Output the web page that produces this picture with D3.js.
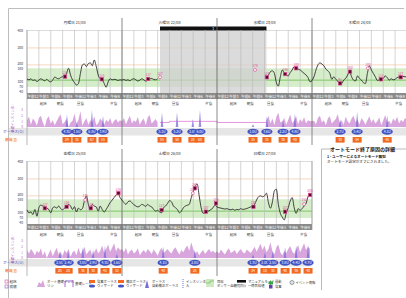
<!DOCTYPE html>
<html>
<head>
<meta charset="utf-8">
<script src="https://cdn.jsdelivr.net/npm/d3@7"></script>
<style>
  body { margin: 0; background: #fff; }
  text { font-family: "Noto Sans CJK JP", "Noto Sans", sans-serif; }
</style>
</head>
<body>
<svg id="chart" width="406" height="298"></svg>
<script>
// DATA
const dayLabels = ["月曜日 21/08", "火曜日 22/08", "水曜日 23/08", "木曜日 24/08", "金曜日 25/08", "土曜日 26/08", "日曜日 27/08"];
const hourLabels = ["午前12", "午前3", "午前6", "午前9", "午後12", "午後3", "午後6", "午後9"];
const mealNames = ["起床", "朝食", "昼食", "夕食"];
const mealHours = [4.1, 8.4, 13.5, 21.9];
const glucoseTicks = [40, 70, 100, 180, 200, 300, 400];
const basalTicks = [0, 1, 2, 3];
const targetLow = 70, targetHigh = 180, targetLine = 110;

// sensor glucose, one value every 30 min, [day, start hour]
const sgMon = [117,112,118,108,112,101,110,118,112,106,115,104,100,110,128,122,118,125,130,131,150,180,140,112,95,81,90,150,200,205,190,208,212,195,229,190,140,118,115,90,68,100,118,112,115,113,108,112];
const sgTue = [110,114,108,112,106,115,118,112,105,110,118,112,104,110,117,120,114,112,118];
const sgWed = [127,140,160,165,150,95,75,130,170,150,140,135,155,170,190,182,175,170,160,150,140,125,100];
const sgThu = [130,170,200,212,205,195,175,165,150,115,130,115,105,85,90,110,120,140,160,130,110,105,135,120,110,95,90,150,195,170,150,130,108,112,118,120,135,125,110,118,112,115,125,128,126,132,130,128];
const sgFri = [117,100,105,90,120,80,130,146,140,135,128,120,100,130,135,128,140,125,118,128,135,150,140,120,136,105,128,118,125,170,200,150,118,150,140,135,110,140,120,105,120,140,160,175,190,205,216,190];
const sgSat = [175,160,150,165,170,160,148,140,135,140,150,145,138,150,140,135,120,110,115,105,100,130,140,155,172,165,140,130,120,100,110,130,140,145,150,190,225,260,270,200,130,98,100,108,112,120,130,145];
const sgSun = [135,130,128,125,122,125,120,118,122,115,120,118,125,120,122,125,130,135,138,150,176,195,200,195,200,216,160,127,165,230,240,150,97,75,58,100,130,170,190,130,97,125,115,125,140,155,195,210];
const sgSegments = [
  [[0, 0, sgMon], [1, 0, sgTue]],
  [[2, 12.5, sgWed], [3, 0.5, sgThu]],
  [[4, 0, sgFri], [5, 0, sgSat], [6, 0, sgSun]]
];

// BG readings (f = used for calibration, o = reading only)
const bgDay   = [0, 0, 1, 1, 2, 2, 2, 2, 3, 3, 3, 3, 3, 4, 4, 4, 4, 4, 5, 5, 5, 5, 5, 6, 6, 6, 6];
const bgHour  = [9.6, 18.9, 6.6, 9.6, 9.6, 12.6, 17.2, 20.0, 7.1, 9.6, 14.1, 17.4, 22.4, 4.5, 10.0, 14.7, 16.1, 23.1, 10.0, 17.9, 18.4, 21.2, 23.75, 9.2, 17.2, 22.0, 23.5];
const bgValue = [131, 115, 117, 127, 170, 127, 146, 180, 91, 160, 180, 115, 127, 127, 136, 176, 127, 216, 117, 216, 245, 107, 156, 136, 107, 152, 206];
const bgType  = ["f","f","f","o","o","f","f","f","f","f","o","f","f","f","f","o","f","f","f","o","f","f","f","f","f","o","f"];

// auto basal (U), one value every 30 min, [day, start hour]
const basalMon = [1.2,1.8,0.4,1.5,1.0,0.2,1.6,2.0,0.8,0,1.4,1.9,0.6,1.2,0.3,1.0,1.7,2.2,0.5,0.9,1.5,0,0.8,1.1,2.4,0.6,1.3,2.8,0.2,1.0,1.6,0.4,1.2,0.8,1.9,0.3,0.7,1.5,1.0,0.4,1.3,0.9,1.6,0.5,1.1,1.4,0.8,1.2];
const basalTue = [1.0,1.6,0.5,1.3,2.0,0.6,1.2,0.9,1.8,0.4,1.1,1.5,0.3,1.7,2.1,0.6,1.0,1.4,0.8];
const basalWed = [1.2,2.0,0.6,1.5,0.3,1.8,2.5,0.8,1.0,1.6,0.4,1.3,2.2,0.7,1.1,1.9,0.5,1.4,0.9,1.7,0.6,1.2,1.0];
const basalThu = [1.1,0.5,1.6,2.0,0.8,1.2,0.3,1.5,1.9,0.6,1.0,1.4,2.3,0.7,1.2,0.4,1.8,1.0,0.6,1.5,2.0,0.9,1.3,0.5,1.6,1.1,0.4,1.2,1.9,0.8,1.4,0.6,1.0,1.7,0.3,1.2,2.1,0.8,1.1,0.5,1.5,1.0,1.8,0.6,1.3,0.9,1.6,1.2];
const basalFri = [1.4,0.8,1.6,1.1,0.5,1.3,0.9,1.7,0.4,1.2,0,0.8,1.5,0.3,1.1,1.8,0.6,1.0,0.4,1.4,0.9,1.6,0.2,1.0,1.3,0.5,1.8,0.7,1.2,2.0,0.6,1.1,1.5,0.4,1.0,1.7,0.8,1.3,2.2,0.9,1.6,2.4,1.1,1.8,2.6,1.2,1.9,1.4];
const basalSat = [1.6,1.0,1.8,0.6,1.2,1.5,0.8,1.1,1.7,0.5,1.0,1.4,0.9,1.6,1.2,0.7,1.5,1.0,0.4,1.3,1.8,0.9,1.2,1.6,1.1,0.8,1.5,1.9,1.2,0.6,1.4,1.0,1.7,2.2,1.3,2.8,1.6,0.8,1.2,0.5,1.0,1.4,0.7,1.2,1.6,1.0,1.3,0.9];
const basalSun = [1.2,0.8,1.5,1.0,0.6,1.3,1.7,0.9,1.1,1.4,0.7,1.2,1.6,1.0,0.8,1.5,1.2,0.9,1.4,2.0,1.1,1.8,2.5,1.4,2.2,1.0,1.6,2.8,1.2,0.6,1.9,2.4,1.0,0.5,1.3,0.9,1.6,2.1,1.2,0.7,1.5,2.3,1.0,1.8,2.6,1.4,2.0,1.6];
const basalSegments = [
  [[0, 0, basalMon], [1, 0, basalTue]],
  [[2, 12.5, basalWed], [3, 0.5, basalThu]],
  [[4, 0, basalFri], [5, 0, basalSat], [6, 0, basalSun]]
];

// manual mode (Tue 9.6h -> Wed 12.5h) and its basal rate
const manualStart = [1, 9.6], manualEnd = [2, 12.5];
const manualReason = "1";
const rateDay   = [1, 1, 2, 2];
const rateHour  = [9.6, 12, 0, 12.5];
const rateValue = [0.8, 1.0, 0.8, 0.8];

// boluses and carbs
const bolusDay   = [0,0,0,0, 1,1,1,1, 2,2,2,2, 3,3,3, 4,4,4,4,4,4, 5,5, 6,6,6,6,6,6];
const bolusHour  = [10.1,12.6,16.4,19.2, 10.1,13.9,17.9,19.7, 9.1,12.6,16.7,19.7, 7.1,11.4,19.0, 8.3,10.4,14.1,16.7,19.7,22.7, 10.4,18.4, 9.1,12.1,14.1,17.2,20.0,23.0];
const bolusUnits = [4.3,1.5,6.8,3.9, 5.1,5.2,2.8,6.0, 1.0,3.6,2.2,4.8, 2.7,5.4,4.1, 2.5,2.4,3.8,2.9,4.3,1.6, 4.1,2.8, 1.3,2.0,2.5,3.8,4.4,4.7];
const carbs      = [29,30,67,55, 55,50,28,60, 25,35,30,40, 30,54,48, 20,20,38,30,45,10, 40,28, 24,10,30,48,36,40];

// SETUP
const dayW = 95, plotX0 = 27;
const panels = [
  { off: 0, days: [0, 1, 2, 3] },
  { off: 131, days: [4, 5, 6] }
];
const pink = "#e0509a", basalFill = "#d8a6dc", bolusBlue = "#4254c4", carbOrange = "#f26a21";

const svg = d3.select("#chart");
svg.append("rect").attr("width", 406).attr("height", 298).attr("fill", "#fff");
svg.append("path").attr("d", "M8.5,298 V8.5 H404")
  .attr("fill", "none").attr("stroke", "#bdbdbd").attr("stroke-width", 1);

panels.forEach((p, pi) => {
  const o = p.off, nd = p.days.length, first = p.days[0];
  const x1 = plotX0 + nd * dayW;
  const x = d3.scaleLinear().domain([0, nd * 24]).range([plotX0, x1]);
  const xt = (day, h) => x((day - first) * 24 + h);
  const y = d3.scaleLinear().domain([40, 400]).range([92 + o, 31 + o]);
  const yb = d3.scaleLinear().domain([0, 3]).range([127 + o, 110 + o]);
  const g = svg.append("g");

  // target band and reference lines
  g.append("rect").attr("x", plotX0).attr("width", x1 - plotX0)
    .attr("y", y(targetHigh)).attr("height", y(targetLow) - y(targetHigh))
    .attr("fill", "#d6edca");
  [200, 300].forEach(v => g.append("line")
    .attr("x1", plotX0).attr("x2", x1).attr("y1", y(v)).attr("y2", y(v))
    .attr("stroke", "#f3c7a4").attr("stroke-width", 0.7));
  g.append("line").attr("x1", plotX0).attr("x2", x1)
    .attr("y1", y(targetLine)).attr("y2", y(targetLine))
    .attr("stroke", "#74c25c").attr("stroke-width", 0.9);

  // manual mode shading
  if (pi === 0) {
    const mx0 = xt(manualStart[0], manualStart[1]), mx1 = xt(manualEnd[0], manualEnd[1]);
    g.append("rect").attr("x", mx0).attr("width", mx1 - mx0)
      .attr("y", y(400)).attr("height", y(40) - y(400) + 1)
      .attr("fill", "#cfcfcf").attr("opacity", 0.75);
    g.append("rect").attr("x", mx0).attr("width", mx1 - mx0)
      .attr("y", 26.5 + o).attr("height", 4.5).attr("fill", "#111");
    g.append("text").attr("x", (mx0 + mx1) / 2).attr("y", 30.2 + o)
      .attr("text-anchor", "middle").attr("font-size", 3.5).attr("fill", "#fff")
      .text(manualReason);
  }

  // vertical grid every 3h
  d3.range(0, nd * 24 + 1, 3).forEach(h => g.append("line")
    .attr("x1", x(h)).attr("x2", x(h)).attr("y1", 30 + o).attr("y2", 93 + o)
    .attr("stroke", "#b9b9b9").attr("stroke-width", 0.6));
  g.append("line").attr("x1", plotX0).attr("x2", x1).attr("y1", 30.5 + o).attr("y2", 30.5 + o)
    .attr("stroke", "#c4c4c4").attr("stroke-width", 0.6);

  // x axis band
  g.append("rect").attr("x", plotX0).attr("width", x1 - plotX0)
    .attr("y", 93 + o).attr("height", 6).attr("fill", "#8a8a8a");
  p.days.forEach((d, di) => {
    hourLabels.forEach((t, i) => g.append("text")
      .attr("x", x(di * 24 + i * 3) + 0.4).attr("y", 97.6 + o)
      .attr("font-size", 3.6).attr("fill", "#fff").text(t));
    mealNames.forEach((m, i) => g.append("text")
      .attr("x", x(di * 24 + mealHours[i])).attr("y", 105 + o)
      .attr("text-anchor", "middle").attr("font-size", 3.6).attr("fill", "#444").text(m));
    g.append("text").attr("x", x(di * 24 + 12)).attr("y", 24 + o)
      .attr("text-anchor", "middle").attr("font-size", 3.8).attr("fill", "#333")
      .text(dayLabels[d]);
  });

  // bolus band
  g.append("rect").attr("x", 9).attr("width", x1 - 9)
    .attr("y", 128 + o).attr("height", 7.5).attr("fill", "#e6e6e6");

  // basal area
  const area = d3.area().x(d => xt(d.day, d.h)).y0(yb(0)).y1(d => yb(d.v));
  basalSegments.filter((s, si) => (pi === 0 ? si < 2 : si === 2)).forEach(seg => {
    const pts = seg.flatMap(([day, st, arr]) => arr.map((v, i) => ({ day, h: st + i * 0.5, v })));
    g.append("path").datum(pts).attr("d", area).attr("fill", basalFill);
  });
  if (pi === 0) {
    const rl = rateDay.map((d, i) => ({ day: d, h: rateHour[i], v: rateValue[i] }));
    g.append("path").datum(rl)
      .attr("d", d3.line().x(d => xt(d.day, d.h)).y(d => yb(d.v)).curve(d3.curveStepAfter))
      .attr("fill", "none").attr("stroke", "#e58ad9").attr("stroke-width", 0.9);
  }

  // bolus spikes, ellipses and carbs
  bolusDay.forEach((d, i) => {
    if (!p.days.includes(d)) return;
    const bx = xt(d, bolusHour[i]);
    g.append("path")
      .attr("d", `M${bx - 1.3},${yb(0)} L${bx},${yb(Math.min(bolusUnits[i] / 2, 3))} L${bx + 1.3},${yb(0)} Z`)
      .attr("fill", "#7a6ad6").attr("opacity", 0.75);
    g.append("ellipse").attr("cx", bx).attr("cy", 131.7 + o).attr("rx", 5.6).attr("ry", 3)
      .attr("fill", bolusBlue);
    g.append("text").attr("x", bx).attr("y", 133 + o).attr("text-anchor", "middle")
      .attr("font-size", 3.4).attr("fill", "#fff").text(bolusUnits[i].toFixed(1) + "U");
    g.append("rect").attr("x", bx - 4.5).attr("y", 137 + o).attr("width", 9).attr("height", 5.6)
      .attr("fill", carbOrange);
    g.append("text").attr("x", bx).attr("y", 141 + o).attr("text-anchor", "middle")
      .attr("font-size", 3.4).attr("fill", "#fff").text(carbs[i]);
  });

  // day boundaries and plot edges
  d3.range(1, nd).forEach(k => g.append("line")
    .attr("x1", x(k * 24)).attr("x2", x(k * 24)).attr("y1", 18 + o).attr("y2", 145 + o)
    .attr("stroke", "#6d6d6d").attr("stroke-width", 0.8));
  g.append("line").attr("x1", plotX0).attr("x2", plotX0).attr("y1", 30 + o).attr("y2", 145 + o)
    .attr("stroke", "#9a9a9a").attr("stroke-width", 0.7);
  g.append("line").attr("x1", x1).attr("x2", x1).attr("y1", 30 + o).attr("y2", 99 + o)
    .attr("stroke", "#9a9a9a").attr("stroke-width", 0.7);

  // sensor glucose line
  const line = d3.line().x(d => xt(d.day, d.h)).y(d => y(d.v)).curve(d3.curveMonotoneX);
  sgSegments.filter((s, si) => (pi === 0 ? si < 2 : si === 2)).forEach(seg => {
    const pts = seg.flatMap(([day, st, arr]) => arr.map((v, i) => ({ day, h: st + i * 0.5, v })));
    g.append("path").datum(pts).attr("d", line)
      .attr("fill", "none").attr("stroke", "#222").attr("stroke-width", 0.85);
  });

  // BG markers
  bgDay.forEach((d, i) => {
    if (!p.days.includes(d)) return;
    const mx = xt(d, bgHour[i]), my = y(bgValue[i]);
    if (bgType[i] === "f") {
      g.append("rect").attr("x", mx - 1.7).attr("y", my - 1.7).attr("width", 3.4).attr("height", 3.4)
        .attr("fill", "#5a0a2a").attr("stroke", pink).attr("stroke-width", 0.7);
    } else {
      g.append("circle").attr("cx", mx).attr("cy", my).attr("r", 1.5)
        .attr("fill", "#fff").attr("stroke", pink).attr("stroke-width", 0.7);
    }
    g.append("text").attr("x", mx).attr("y", my - 2.6).attr("text-anchor", "middle")
      .attr("font-size", 3.2).attr("fill", pink).text(bgValue[i]);
  });

  // y tick labels (200 and 180 nudged apart so they do not collide)
  glucoseTicks.forEach(v => g.append("text")
    .attr("x", 23).attr("y", y(v) + 1.2 + (v === 200 ? -0.9 : v === 180 ? 0.7 : 0))
    .attr("text-anchor", "end")
    .attr("font-size", 3.3).attr("fill", "#333").text(v));
  basalTicks.forEach(v => g.append("text")
    .attr("x", 23).attr("y", yb(v) + 1.2).attr("text-anchor", "end")
    .attr("font-size", 3.2).attr("fill", "#c070c0").text(v));
  g.append("text").attr("transform", `translate(14,${118.5 + o}) rotate(-90)`)
    .attr("text-anchor", "middle").attr("font-size", 3.4).attr("fill", "#c060c0")
    .text("基礎インスリン(U)");
  g.append("text").attr("x", 3).attr("y", 133 + o).attr("font-size", 3.8)
    .attr("fill", "#3a4cc0").text("ボーラス(U)");
  g.append("text").attr("x", 5).attr("y", 141.3 + o).attr("font-size", 3.8)
    .attr("fill", carbOrange).text("糖質(g)");
});

// Auto mode exit detail box
const boxTitle = "オートモード終了原因の詳細";
const boxLines = ["1 - ユーザーによるオートモード無効", "オートモード設定がオフにされました。"];
svg.append("path").attr("d", "M321.5,290 V149 H333 M392,149 H406")
  .attr("fill", "none").attr("stroke", "#a8a8a8").attr("stroke-width", 0.8);
svg.append("text").attr("x", 362.5).attr("y", 150.8).attr("text-anchor", "middle")
  .attr("font-size", 5).attr("font-weight", "bold").attr("fill", "#222").text(boxTitle);
boxLines.forEach((t, i) => svg.append("text")
  .attr("x", 327).attr("y", 158 + i * 5).attr("font-size", 3.6)
  .attr("font-weight", i === 0 ? "bold" : "normal").attr("fill", "#222").text(t));

// LEGEND
const ly = 280;
const lg = svg.append("g");
lg.append("rect").attr("x", 5).attr("y", ly).attr("width", 3).attr("height", 3)
  .attr("fill", "none").attr("stroke", pink).attr("stroke-width", 0.6);
lg.append("text").attr("x", 9.5).attr("y", ly + 2.8).attr("font-size", 3.6).attr("fill", "#333").text("起床");
lg.append("rect").attr("x", 5).attr("y", ly + 5).attr("width", 3).attr("height", 3)
  .attr("fill", "none").attr("stroke", "#8a5cc0").attr("stroke-width", 0.6);
lg.append("text").attr("x", 9.5).attr("y", ly + 7.8).attr("font-size", 3.6).attr("fill", "#333").text("就寝");

lg.append("path").attr("d", `M37,${ly + 7} L39,${ly + 2} L41,${ly + 4} L43,${ly} L45,${ly + 7} Z`).attr("fill", basalFill);
lg.append("text").attr("x", 47).attr("y", ly + 3).attr("font-size", 3.4).attr("fill", "#333").text("オート基礎インス");
lg.append("text").attr("x", 47).attr("y", ly + 7.2).attr("font-size", 3.4).attr("fill", "#333").text("リン");

lg.append("path").attr("d", `M65,${ly + 7} V${ly + 1} H73 V${ly + 7}`)
  .attr("fill", "none").attr("stroke", "#9a5cc8").attr("stroke-width", 0.9);
lg.append("text").attr("x", 75).attr("y", ly + 5).attr("font-size", 3.4).attr("fill", "#333").text("基礎レート");

[[89, "食事ボーラス", "ウィザード"], [118, "補正ボーラス", "ウィザード"]].forEach(([lx, a, b]) => {
  lg.append("rect").attr("x", lx).attr("y", ly).attr("width", 6).attr("height", 3).attr("fill", carbOrange);
  lg.append("ellipse").attr("cx", lx + 3).attr("cy", ly + 6).attr("rx", 3).attr("ry", 1.5).attr("fill", bolusBlue);
  lg.append("text").attr("x", lx + 8).attr("y", ly + 3).attr("font-size", 3.3).attr("fill", "#333").text(a);
  lg.append("text").attr("x", lx + 8).attr("y", ly + 7.2).attr("font-size", 3.3).attr("fill", "#333").text(b);
});

lg.append("path").attr("d", `M145,${ly + 8} L147,${ly} L149,${ly + 8} Z`).attr("fill", "#7a6ad6");
lg.append("text").attr("x", 152).attr("y", ly + 3).attr("font-size", 3.3).attr("fill", "#333").text("ボーラス");
lg.append("text").attr("x", 152).attr("y", ly + 7.2).attr("font-size", 3.3).attr("fill", "#333").text("自動補正ボーラス");

lg.append("line").attr("x1", 183).attr("x2", 183).attr("y1", ly - 1).attr("y2", ly + 8)
  .attr("stroke", bolusBlue).attr("stroke-width", 0.8).attr("stroke-dasharray", "1,1");
lg.append("text").attr("x", 186).attr("y", ly + 3).attr("font-size", 3.3).attr("fill", "#333").text("インスリン注");
lg.append("text").attr("x", 186).attr("y", ly + 7.2).attr("font-size", 3.3).attr("fill", "#333").text("入");

lg.append("rect").attr("x", 206).attr("y", ly - 1).attr("width", 8).attr("height", 8).attr("fill", "#cfe9c2");
lg.append("path").attr("d", `M206,${ly + 3} H210 V${ly + 1} H214`).attr("fill", "none").attr("stroke", "#6bbf55").attr("stroke-width", 0.7);
lg.append("text").attr("x", 217).attr("y", ly + 3).attr("font-size", 3.3).attr("fill", "#333").text("目標");
lg.append("text").attr("x", 217).attr("y", ly + 7.2).attr("font-size", 3.3).attr("fill", "#333").text("センサー血糖範囲");

lg.append("rect").attr("x", 237).attr("y", ly).attr("width", 9).attr("height", 2.6).attr("fill", "#111");
lg.append("text").attr("x", 248).attr("y", ly + 2.6).attr("font-size", 3.3).attr("fill", "#333").text("マニュアルモード");
lg.append("rect").attr("x", 237).attr("y", ly + 4.6).attr("width", 9).attr("height", 2.6).attr("fill", "#c8c8c8");
lg.append("text").attr("x", 248).attr("y", ly + 7.2).attr("font-size", 3.3).attr("fill", "#333").text("一時目標値");

lg.append("path").attr("d", `M268,${ly + 3} L271,${ly} L271,${ly + 1.5} L273,${ly + 1.5} L273,${ly + 4.5} L271,${ly + 4.5} L271,${ly + 6} Z`).attr("fill", "#3aa64a");
lg.append("text").attr("x", 275).attr("y", ly + 3).attr("font-size", 3.3).attr("fill", "#333").text("運動");
lg.append("rect").attr("x", 269).attr("y", ly + 5).attr("width", 3.5).attr("height", 3.5).attr("fill", "#6a3cb0");
lg.append("text").attr("x", 275).attr("y", ly + 8).attr("font-size", 3.3).attr("fill", "#333").text("食事");

lg.append("circle").attr("cx", 292).attr("cy", ly + 2.5).attr("r", 2).attr("fill", "none").attr("stroke", "#333").attr("stroke-width", 0.5);
lg.append("text").attr("x", 292).attr("y", ly + 3.7).attr("text-anchor", "middle").attr("font-size", 3).attr("fill", "#333").text("i");
lg.append("text").attr("x", 295.5).attr("y", ly + 3.7).attr("font-size", 3.3).attr("fill", "#333").text("イベント情報");
</script>
</body>
</html>
